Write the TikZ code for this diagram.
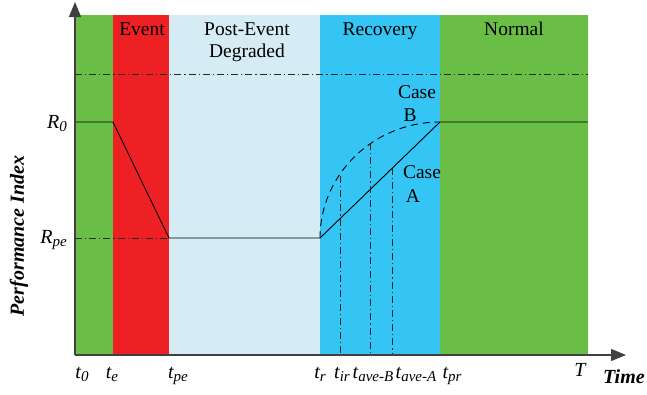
\documentclass[tikz,border=0pt]{standalone}
\usepackage{fontspec}
\setmainfont{Liberation Serif}
\usetikzlibrary{arrows.meta}
\definecolor{cgreen}{HTML}{6ABD45}
\definecolor{cred}{HTML}{ED2024}
\definecolor{clight}{HTML}{D5ECF4}
\definecolor{cblue}{HTML}{35C5F4}
\definecolor{caxis}{HTML}{404040}
\newcommand{\lbl}[2]{{\itshape #1\raisebox{-0.35ex}{\fontsize{15}{16}\selectfont #2}}}
\tikzset{
  big/.style={font=\fontsize{19.5}{21}\selectfont, inner sep=0pt, anchor=base},
  tick/.style={font=\fontsize{20}{22}\selectfont, inner sep=0pt, anchor=base},
  curve/.style={draw=black, line width=0.9pt},
  dashdot/.style={draw=black!85, line width=0.8pt, dash pattern=on 7pt off 3pt on 1.2pt off 3pt},
  dashcurve/.style={draw=black, line width=0.9pt, dash pattern=on 7pt off 5pt},
  axis/.style={draw=caxis, line width=1.1pt, -{Triangle[length=15pt,width=12pt]}}
}
\begin{document}
\begin{tikzpicture}[x=1pt,y=-1pt]
\useasboundingbox (0,0) rectangle (647,394);
% phase bands
\fill[cgreen] (75,15) rectangle (113,355);
\fill[cred] (113,15) rectangle (169,355);
\fill[clight] (169,15) rectangle (320,355);
\fill[cblue] (320,15) rectangle (440,355);
\fill[cgreen] (440,15) rectangle (588,355);
% coordinates
\coordinate (O) at (75,355);
\coordinate (ytop) at (75,2);
\coordinate (xend) at (626,355);
\coordinate (r0) at (75,122);
\coordinate (te) at (113,122);
\coordinate (tpe) at (169,238);
\coordinate (rpe) at (75,238);
\coordinate (tr) at (320,238);
\coordinate (tpr) at (440,122);
\coordinate (tend) at (588,122);
\coordinate (top1) at (75,74);
\coordinate (top2) at (588,74);
\coordinate (irtop) at (340,176);
\coordinate (irbot) at (340,355);
\coordinate (abtop) at (370,143);
\coordinate (abbot) at (370,355);
\coordinate (aatop) at (392,168);
\coordinate (aabot) at (392,355);
% reference lines
\draw[dashdot] (top1) -- (top2);
\draw[dashdot] (rpe) -- (tpe);
\draw[dashdot] (irtop) -- (irbot);
\draw[dashdot] (abtop) -- (abbot);
\draw[dashdot] (aatop) -- (aabot);
% performance curve
\draw[curve] (r0) -- (te) -- (tpe) -- (tr) -- (tpr) -- (tend);
\draw[dashcurve] (tr) .. controls (320,174) and (374,122) .. (tpr);
% axes
\draw[axis] (O) -- (ytop);
\draw[axis] (O) -- (xend);
% phase labels
\node[big] (ev) at (142,35) {Event};
\node[big] (pe1) at (247,35) {Post-Event};
\node[big] (pe2) at (247,57) {Degraded};
\node[big] (rec) at (380,35) {Recovery};
\node[big] (nor) at (514,35) {Normal};
\node[big] (cb1) at (417,98) {Case};
\node[big] (cb2) at (410,121) {B};
\node[big] (ca1) at (422,178) {Case};
\node[big] (ca2) at (413,202) {A};
% y labels
\node[tick, anchor=base east] (lr0) at (67,128) {\lbl{R}{0}};
\node[tick, anchor=base east] (lrpe) at (67,243) {\lbl{R}{pe}};
\node[font=\fontsize{20}{22}\selectfont\bfseries\itshape, rotate=90, inner sep=0pt] (yl) at (19,236) {Performance Index};
% x labels
\node[tick] (l0) at (82,378) {\lbl{t}{0}};
\node[tick] (le) at (112,378) {\lbl{t}{e}};
\node[tick] (lpe) at (178,378) {\lbl{t}{pe}};
\node[tick] (lr) at (320,378) {\lbl{t}{r}};
\node[tick] (lir) at (342,378) {\lbl{t}{ir}};
\node[tick] (lab) at (373,378) {\lbl{t}{ave-B}};
\node[tick] (laa) at (416,378) {\lbl{t}{ave-A}};
\node[tick] (lpr) at (452,378) {\lbl{t}{pr}};
\node[tick] (lT) at (580,376) {\itshape T};
\node[font=\fontsize{20}{22}\selectfont\bfseries\itshape, inner sep=0pt, anchor=base west] (xl) at (603,383) {Time};
\end{tikzpicture}
\end{document}
